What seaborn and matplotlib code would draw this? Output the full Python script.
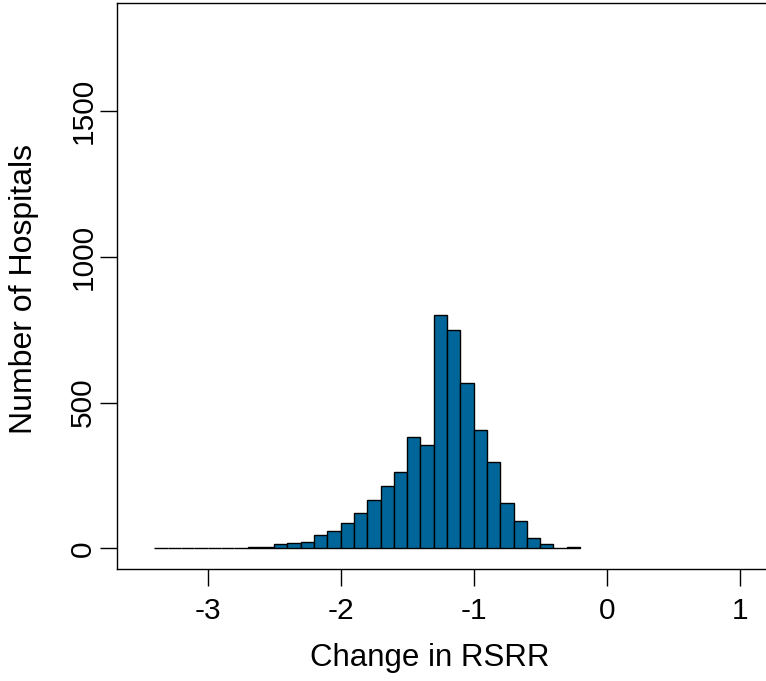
import numpy as np
import pandas as pd
import matplotlib
matplotlib.use("Agg")
import matplotlib.pyplot as plt
import seaborn as sns

# Histogram bins (width 0.1) and hospital counts per bin
bin_edges = [-3.4, -3.3, -3.2, -3.1, -3.0, -2.9, -2.8, -2.7, -2.6, -2.5, -2.4,
             -2.3, -2.2, -2.1, -2.0, -1.9, -1.8, -1.7, -1.6, -1.5, -1.4, -1.3,
             -1.2, -1.1, -1.0, -0.9, -0.8, -0.7, -0.6, -0.5, -0.4, -0.3, -0.2]
counts = [0, 0, 0, 0, 0, 0, 0, 3, 5, 15, 17,
          22, 47, 58, 88, 122, 165, 214, 262, 383, 353, 802,
          750, 567, 407, 296, 157, 94, 34, 15, 0, 3]

x_ticks = [-3, -2, -1, 0, 1]
y_ticks = [0, 500, 1000, 1500]

edges = np.array(bin_edges)
df = pd.DataFrame({
    "change": (edges[:-1] + edges[1:]) / 2,
    "hospitals": counts,
})

sns.set_theme(style="white")
plt.rcParams["font.family"] = ["Liberation Sans", "DejaVu Sans"]

fig = plt.figure(figsize=(7.66, 6.81), dpi=100)
W, H = 766, 681
left_px, right_px, top_px, bottom_px = 116.7, 777.4, 2.7, 569.3
ax = fig.add_axes([left_px / W, 1 - bottom_px / H,
                   (right_px - left_px) / W, (bottom_px - top_px) / H])

sns.histplot(data=df, x="change", weights="hospitals", bins=list(bin_edges),
             color="#006699", alpha=1, edgecolor="black", linewidth=1.0,
             ax=ax)

ax.set_xlim(-3.684, 1.284)
ax.set_ylim(-72, 1872)
ax.set_xticks(x_ticks)
ax.set_yticks(y_ticks)
ax.set_xticklabels([str(v) for v in x_ticks])
ax.set_yticklabels([str(v) for v in y_ticks], rotation=90, va="center")

for s in ax.spines.values():
    s.set_visible(True)
    s.set_color("black")
    s.set_linewidth(1.0)

ax.tick_params(axis="both", which="both", direction="out", length=12,
               width=1.0, color="black", labelsize=21.5, labelcolor="black",
               bottom=True, left=True)
ax.tick_params(axis="x", pad=8)
ax.tick_params(axis="y", pad=2)

ax.set_xlabel("Change in RSRR", fontsize=22.5, color="black")
ax.set_ylabel("Number of Hospitals", fontsize=23, color="black")
ax.xaxis.set_label_coords(0.474, -0.13)
ax.yaxis.set_label_coords(-0.118, 0.495)
ax.grid(False)

fig.savefig("out.png", dpi=100, facecolor="white")
